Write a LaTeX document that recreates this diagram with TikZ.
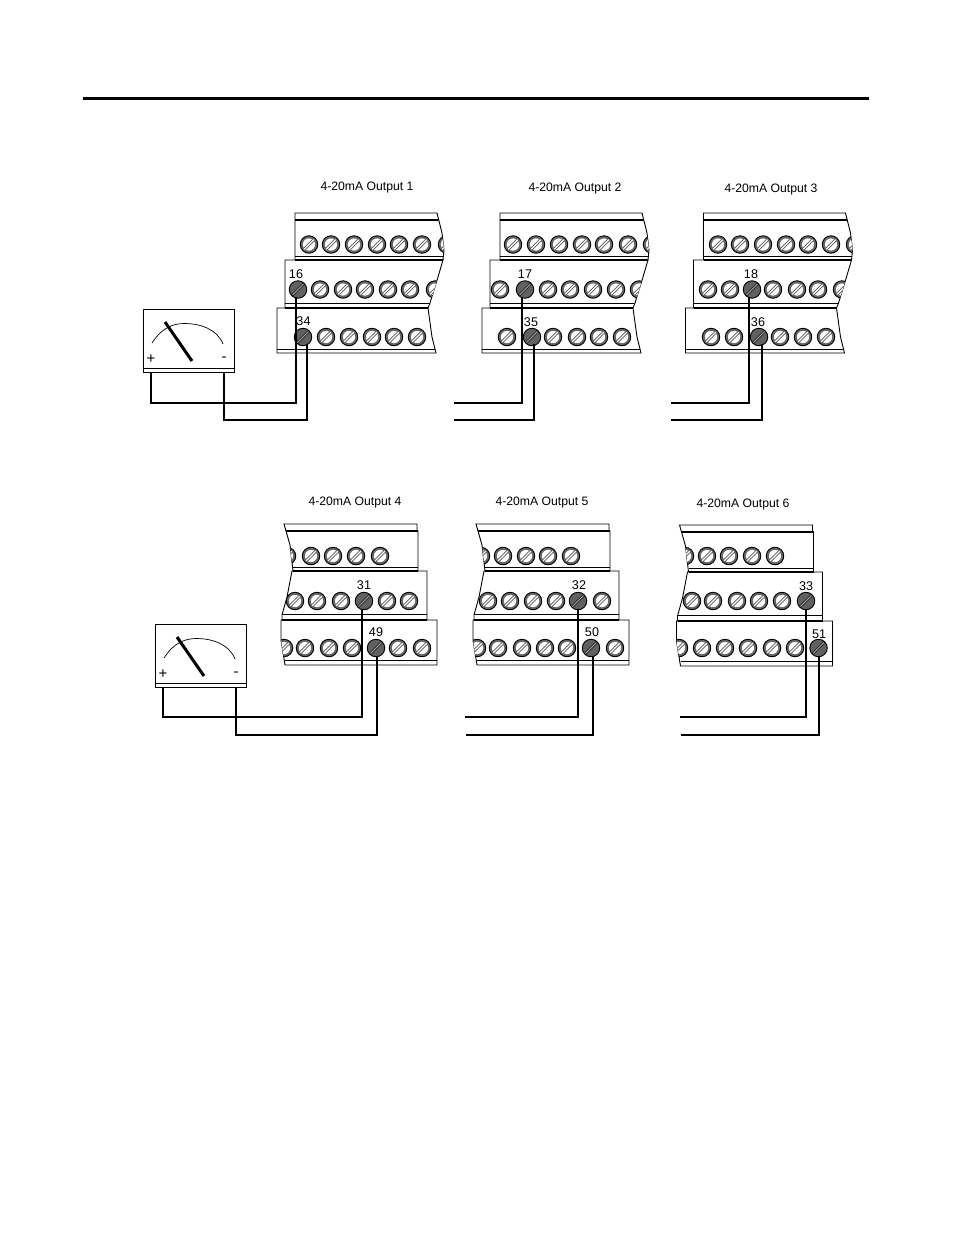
\documentclass[tikz,border=0pt]{standalone}
\usepackage{fontspec}
\setmainfont{Liberation Sans}
\tikzset{
  x=1pt,y=-1pt,
  wire/.style={line width=2.4pt,line cap=butt,line join=miter},
  thin line/.style={line width=.8pt},
  thick line/.style={line width=2pt},
  strip/.style={draw=black,line width=.9pt,fill=white},
  screwbase/.style={circle,inner sep=0pt,minimum size=17.5pt,draw=black,line width=.9pt},
  lightscrew/.style={screwbase,fill=black!60,
     path picture={\fill[white] (path picture bounding box.center) circle (6.1pt);
       \draw[line width=3pt,black!65] ([xshift=-4.4pt,yshift=-4.4pt]path picture bounding box.center) -- ([xshift=4.4pt,yshift=4.4pt]path picture bounding box.center);
       \draw[line width=1.1pt,white] ([xshift=-4.8pt,yshift=-4.8pt]path picture bounding box.center) -- ([xshift=4.8pt,yshift=4.8pt]path picture bounding box.center);}},
  darkscrew/.style={screwbase,fill=black!62,
     path picture={\draw[line width=2.8pt,black!85] ([xshift=-6pt,yshift=-6pt]path picture bounding box.center) -- ([xshift=6pt,yshift=6pt]path picture bounding box.center);
       \draw[line width=.9pt,black!35] ([xshift=-5.5pt,yshift=-5.5pt]path picture bounding box.center) -- ([xshift=5.5pt,yshift=5.5pt]path picture bounding box.center);}},
  title/.style={font=\fontsize{12.2}{14}\selectfont,inner sep=0pt},
  num/.style={font=\fontsize{12.6}{14}\selectfont,inner sep=0pt},
  sign/.style={font=\fontsize{15}{15}\selectfont,inner sep=0pt},
  meterbox/.style={rectangle,draw=black,line width=.9pt,fill=white,inner sep=0pt,minimum width=91pt,minimum height=63pt},
}
% upper block: #1 dx, #2 top xs, #3 mid xs, #4 low xs, #5 name
\newcommand{\blockA}[5]{%
  \begin{scope}
    \begin{scope}[shift={(#1,0)}]
      \path[strip] (295,213)--(437,213)--(442,233)--(444,250)--(443,260)--(295,260)--cycle;
      \draw[thick line] (295,219.5)--(438.5,219.5);
      \draw[thin line] (295,256)--(443.5,256);
      \path[strip] (285,260)--(443,260)--(438,277)--(430,303)--(428,308)--(285,308)--cycle;
      \draw[thick line] (295,260)--(443,260);
      \draw[thin line] (285,303.5)--(430,303.5);
      \path[strip] (277,308)--(428,308)--(432,337)--(436,353)--(277,353)--cycle;
      \draw[thick line] (285,307.5)--(428,307.5);
      \draw[thin line] (277,349)--(435,349);
    \end{scope}
    \begin{scope}
      \clip[shift={(#1,0)}] (295,213)--(437,213)--(442,233)--(444,250)--(443,260)--(295,260)--cycle;
      \foreach \x [count=\i] in {#2} \node[lightscrew,name=#5t\i] at (\x,244.5) {};
    \end{scope}
    \begin{scope}
      \clip[shift={(#1,0)}] (285,260)--(443,260)--(438,277)--(430,303)--(428,308)--(285,308)--cycle;
      \foreach \x [count=\i] in {#3} \node[lightscrew,name=#5m\i] at (\x,289.5) {};
    \end{scope}
    \begin{scope}
      \clip[shift={(#1,0)}] (277,308)--(428,308)--(432,337)--(436,353)--(277,353)--cycle;
      \foreach \x [count=\i] in {#4} \node[lightscrew,name=#5l\i] at (\x,337) {};
    \end{scope}
  \end{scope}}
% lower block: #1 dx, #2 dy, #3 top xs, #4 mid xs, #5 low xs, #6 name
\newcommand{\blockB}[6]{%
  \begin{scope}[shift={(#1,#2)}]
    \path[strip] (284,524)--(417,524)--(417,531)--(418,531)--(418,571)--(293,571)--(290,545)--cycle;
    \draw[thick line] (286,531)--(418,531);
    \draw[thin line] (293,567.5)--(418,567.5);
    \path[strip] (292,571)--(427,571)--(427,620)--(282,620)--(282,615)--(287,597)--cycle;
    \draw[thick line] (293,570.5)--(418,570.5);
    \draw[thin line] (282,614.5)--(427,614.5);
    \path[strip] (281,620)--(437,620)--(437,665)--(285,665)--(281,640)--cycle;
    \draw[thick line] (282,619.5)--(427,619.5);
    \draw[thin line] (285,660)--(437,660);
  \end{scope}
  \begin{scope}
    \clip[shift={(#1,#2)}] (284,524)--(418,524)--(418,571)--(293,571)--(290,545)--cycle;
    \foreach \x [count=\i] in {#3} \node[lightscrew,name=#6t\i] at (\x,556) {};
  \end{scope}
  \begin{scope}
    \clip[shift={(#1,#2)}] (292,571)--(427,571)--(427,620)--(282,620)--(282,615)--(287,597)--cycle;
    \foreach \x [count=\i] in {#4} \node[lightscrew,name=#6m\i] at (\x,601) {};
  \end{scope}
  \begin{scope}
    \clip[shift={(#1,#2)}] (281,620)--(437,620)--(437,665)--(285,665)--(281,640)--cycle;
    \foreach \x [count=\i] in {#5} \node[lightscrew,name=#6l\i] at (\x,648) {};
  \end{scope}}
% meter: #1 name, #2 left, #3 top
\newcommand{\meter}[3]{%
  \node[meterbox,anchor=north west] (#1) at (#2,#3) {};
  \begin{scope}[shift={(#2,#3)}]
    \draw[line width=.9pt] (0,59)--(91,59);
    \draw[line width=.7pt] (9,34) .. controls (20,17) and (32,14.5) .. (42,14.5) .. controls (57,14.5) and (74,20) .. (80,35);
    \draw[line width=3pt] (22,13)--(49,52);
    \node[sign,name=#1plus] at (8,50) {+};
    \node[sign,name=#1minus] at (81,50) {-};
    \coordinate (#1p) at (8,63);
    \coordinate (#1m) at (81,63);
  \end{scope}}
\begin{document}
\begin{tikzpicture}
\useasboundingbox (0,0) rectangle (954,1235);
\fill[white] (0,0) rectangle (954,1235);
\coordinate (ruleL) at (83,98);
\coordinate (ruleR) at (869,98);
\draw[line width=3pt] (ruleL)--(ruleR);

% ---- upper row ----
\node[title] (t1) at (367,188) {4-20mA Output 1};
\node[title] (t2) at (575,189) {4-20mA Output 2};
\node[title] (t3) at (771,190) {4-20mA Output 3};

\blockA{0}{309,331,354,377,399,422,447}{320,343,365,388,410,435}{326,349,372,394,417}{a}
\blockA{205}{513,536,559,582,604,628,652}{500,548,570,593,616,639}{507,553,577,599,622}{b}
\blockA{408.5}{718,740,763,786,808,831,855}{708,730,773,797,818,842}{711,734,780,803,826}{c}

\node[darkscrew] (s16) at (298,289.5) {};
\node[darkscrew] (s34) at (303,337) {};
\node[darkscrew] (s17) at (525,289.5) {};
\node[darkscrew] (s35) at (532,337) {};
\node[darkscrew] (s18) at (752,289.5) {};
\node[darkscrew] (s36) at (759,337) {};

\node[num] at (296,274) {16};
\node[num] at (303.5,321) {34};
\node[num] at (525,274) {17};
\node[num] at (531,322) {35};
\node[num] at (751,274) {18};
\node[num] at (758,322) {36};

\meter{m1}{143}{309}
\coordinate (j1a) at (296,403);
\coordinate (j1b) at (307,420);
\draw[wire] (m1p) |- (j1a) -- (296,297);
\draw[wire] (m1m) |- (j1b) -- (307,344);

\coordinate (e2a) at (453.5,403);
\coordinate (e2b) at (453.5,420);
\draw[wire] (e2a) -| (522,297);
\draw[wire] (e2b) -| (534,344);
\coordinate (e3a) at (671,403);
\coordinate (e3b) at (671,420);
\draw[wire] (e3a) -| (749,297);
\draw[wire] (e3b) -| (762,344);

% ---- lower row ----
\node[title] (t4) at (355,502) {4-20mA Output 4};
\node[title] (t5) at (542,502) {4-20mA Output 5};
\node[title] (t6) at (743,504) {4-20mA Output 6};

\blockB{0}{0}{287,311,333,356,380}{295,317,341,387,409}{284,305,329,352,398,422}{d}
\blockB{192}{0}{481,503,526,548,571}{488,510,533,556,602}{477,498,522,545,567,615}{e}
\blockB{395.5}{1}{685,707,729,752,775}{692,713,737,759,782}{679,702,725,748,772,795}{f}

\node[darkscrew] (s31) at (364,601) {};
\node[darkscrew] (s49) at (376,648) {};
\node[darkscrew] (s32) at (578,601) {};
\node[darkscrew] (s50) at (591,648) {};
\node[darkscrew] (s33) at (806,601) {};
\node[darkscrew] (s51) at (818.5,648) {};

\node[num] at (364,585) {31};
\node[num] at (376,632) {49};
\node[num] at (579,585) {32};
\node[num] at (592,632) {50};
\node[num] at (806,586) {33};
\node[num] at (819,634) {51};

\meter{m2}{155}{624}
\coordinate (j4a) at (362,717);
\coordinate (j4b) at (377,735);
\draw[wire] (m2p) |- (j4a) -- (362,609);
\draw[wire] (m2m) |- (j4b) -- (377,656);

\coordinate (e5a) at (465,717);
\coordinate (e5b) at (465.5,735);
\draw[wire] (e5a) -| (578,609);
\draw[wire] (e5b) -| (593,656);
\coordinate (e6a) at (680,717);
\coordinate (e6b) at (680.5,735);
\draw[wire] (e6a) -| (806,609);
\draw[wire] (e6b) -| (819,656);
\end{tikzpicture}
\end{document}
